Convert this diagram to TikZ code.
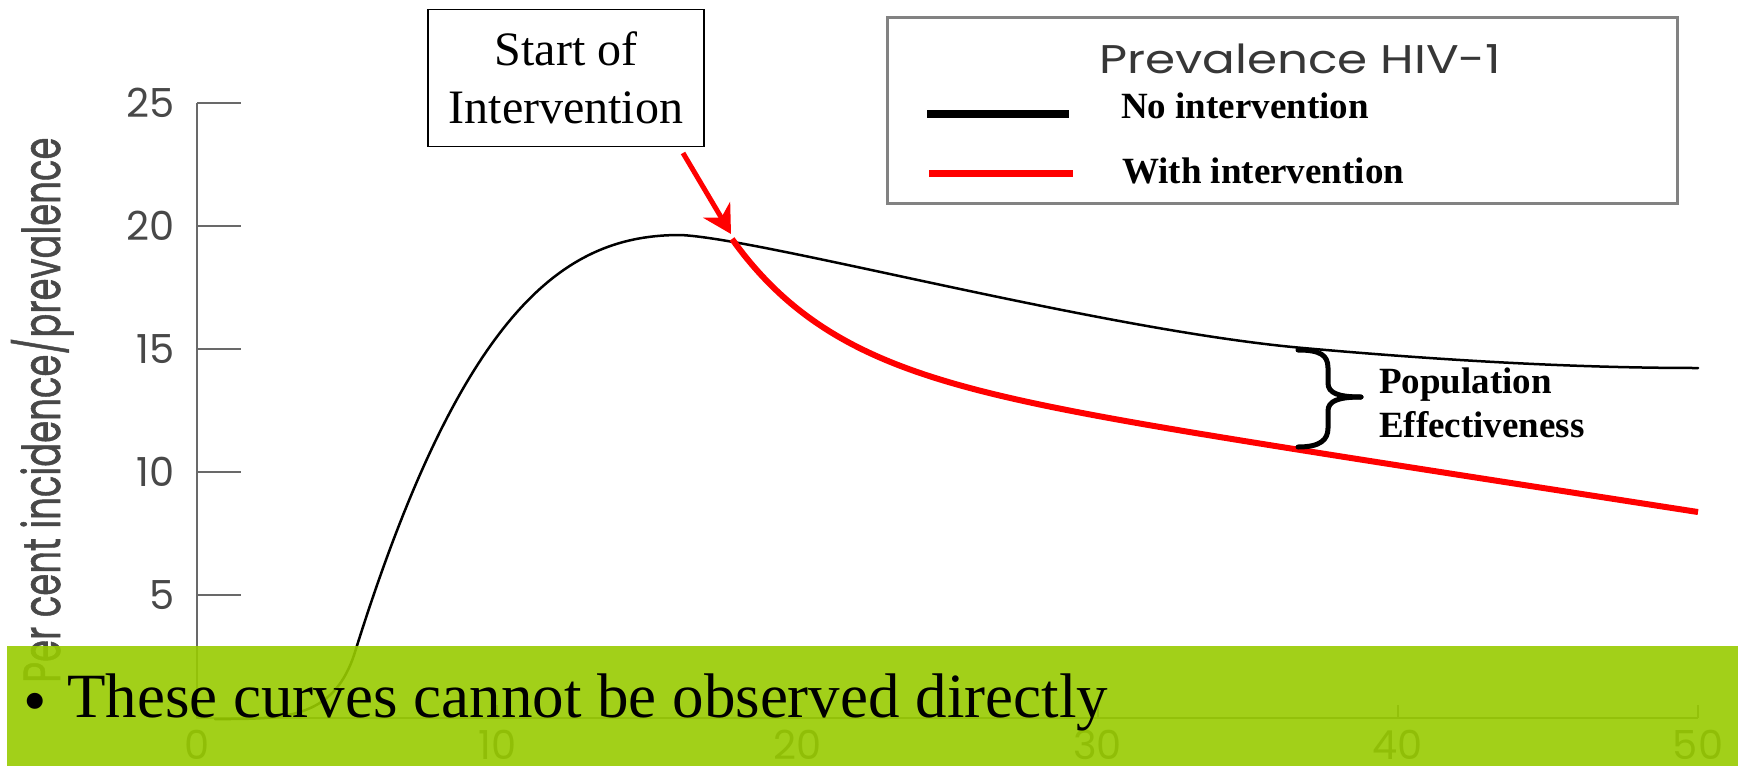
\documentclass[tikz,border=0pt]{standalone}
\usepackage{fontspec}
\usepackage{graphicx}
\setmainfont{Liberation Serif}
\newfontfamily\gothic{Poppins}
\newfontfamily\gothicheavy[FakeBold=1.2]{Poppins}
\usetikzlibrary{arrows.meta}
\definecolor{bandgreen}{RGB}{152,203,0}
\definecolor{axisgray}{RGB}{105,105,105}
\definecolor{labelgray}{RGB}{72,72,72}
\definecolor{titlegray}{RGB}{55,55,55}
\definecolor{framegray}{RGB}{130,130,130}
\definecolor{pured}{RGB}{255,0,0}
\begin{document}
\begin{tikzpicture}[x=1pt,y=-1pt,
  axisline/.style={axisgray, line width=2pt},
  ticklabel/.style={text=labelgray, font=\gothic\fontsize{40}{40}\selectfont, inner sep=0pt},
  legendtext/.style={anchor=base west, inner sep=0pt, font=\bfseries\fontsize{37}{37}\selectfont},
  nocurve/.style={black, line width=2.5pt, line join=round, line cap=round},
  withcurve/.style={pured, line width=6pt, line join=round},
  bracestroke/.style={black, line width=5pt, line cap=round, line join=round},
  callout/.style={draw=black, line width=1.5pt, align=center, inner sep=0pt,
    minimum width=276pt, minimum height=137pt, font=\fontsize{48}{58}\selectfont}]
\useasboundingbox (0,0) rectangle (1738,766);

% axes and ticks
\draw[axisline] (197,103) -- (197,718) -- (1698,718);
\foreach \v in {5,10,15,20,25}{
  \draw[axisline] (197,{718-24.6*\v}) -- (241,{718-24.6*\v});
  \node[ticklabel, anchor=east] (ytick\v) at (175,{718-24.6*\v}) {\v};
}
\foreach \t in {10,20,30,40,50}{
  \draw[axisline] ({197+30.02*\t},718) -- ({197+30.02*\t},705);
}
\foreach \t in {0,10,20,30,40,50}{
  \node[ticklabel] (xtick\t) at ({197+30.02*\t},745) {\t};
}
\node[rotate=90, anchor=base, inner sep=0pt, text=labelgray,
  font=\gothicheavy\fontsize{52}{52}\selectfont] (ytitle) at (60,410)
  {\resizebox{545pt}{\height}{Per cent incidence/prevalence}};

% prevalence without intervention: slow start, steep rise, peak, slow decline
\draw[nocurve] (215,719) -- (225,719)
  .. controls (290,719) and (335,716) .. (355,652)
  .. controls (465,300) and (570,235) .. (680,235)
  .. controls (760,238) and (1100,330) .. (1303,348)
  .. controls (1420,358.4) and (1560,368) .. (1698,368);

% prevalence with intervention: fast drop easing into a steady decline
\draw[withcurve] plot[domain=0:966, samples=140, smooth]
  ({732+\x}, {239 + 123.3*(1-exp(-\x/99)) + 0.155*\x});

% callout
\node[callout] (start) at (566,78) {Start of\\Intervention};
\coordinate (arrowtail) at (683,153);
\coordinate (cut) at (731,234);
\draw[pured, line width=5pt, -{Stealth[length=28pt, width=31pt, inset=9pt]}] (arrowtail) -- (cut);

% legend
\draw[framegray, line width=3pt] (887,17) rectangle (1677,203);
\node[anchor=base, inner sep=0pt, text=titlegray,
  font=\gothic\fontsize{40}{40}\selectfont] (legtitle) at (1300,73)
  {\resizebox{402pt}{\height}{Prevalence HIV-1}};
\coordinate (lna) at (927,114);
\coordinate (lnb) at (1069,114);
\coordinate (lwa) at (929,173);
\coordinate (lwb) at (1073,173);
\draw[black, line width=8pt] (lna) -- (lnb);
\draw[pured, line width=7pt] (lwa) -- (lwb);
\node[legendtext] (lno) at (1121,118) {No intervention};
\node[legendtext] (lwith) at (1122,183) {With intervention};

% gap brace
\draw[bracestroke] (1298,350) .. controls (1320,350) and (1328,355) .. (1328,368)
  -- (1328,383) .. controls (1328,393) and (1338,397) .. (1361,397);
\draw[bracestroke] (1361,397) .. controls (1338,397) and (1328,401) .. (1328,411)
  -- (1328,428) .. controls (1328,440) and (1320,447) .. (1298,447);
\node[legendtext] (pop) at (1379,393) {Population};
\node[legendtext] (eff) at (1379,437) {Effectiveness};

% bottom banner
\fill[bandgreen, fill opacity=0.9] (7,646) rectangle (1738,766);
\node[anchor=base, inner sep=0pt, font=\fontsize{67}{67}\selectfont] (dot) at (35,723) {\textbullet};
\node[anchor=base west, inner sep=0pt, font=\fontsize{63}{63}\selectfont] (note) at (67,717)
  {These curves cannot be observed directly};
\end{tikzpicture}
\end{document}
